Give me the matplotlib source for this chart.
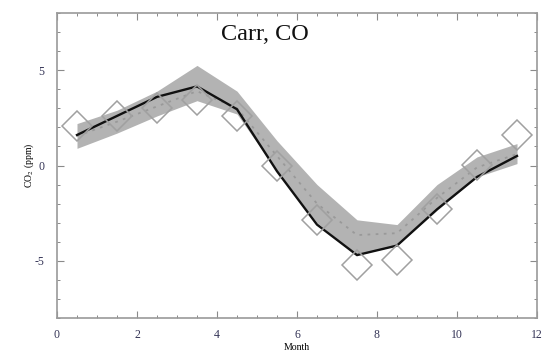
import matplotlib
matplotlib.use("Agg")
import matplotlib.pyplot as plt
from matplotlib.ticker import MultipleLocator

# Monthly CO2 seasonal cycle at Carr, CO
months = [0.5, 1.5, 2.5, 3.5, 4.5, 5.5, 6.5, 7.5, 8.5, 9.5, 10.5, 11.5]
observed = [2.05, 2.6, 3.0, 3.45, 2.6, 0.0, -2.85, -5.2, -4.95, -2.3, 0.05, 1.6]
model = [1.6, 2.6, 3.6, 4.15, 2.95, -0.3, -3.1, -4.7, -4.2, -2.3, -0.6, 0.5]
ens_mean = [1.55, 2.3, 3.1, 3.9, 3.0, 0.5, -2.0, -3.65, -3.55, -1.7, -0.1, 0.6]
ens_low = [0.9, 1.7, 2.6, 3.4, 2.7, -0.3, -3.0, -4.7, -4.2, -2.35, -0.6, 0.1]
ens_high = [2.2, 2.9, 3.9, 5.25, 3.9, 1.3, -1.0, -2.85, -3.1, -1.0, 0.45, 1.15]

title_text = "Carr, CO"
x_label = "Month"
y_label = "CO$_2$ (ppm)"

plt.rcParams["font.family"] = ["Liberation Serif", "DejaVu Serif"]
plt.rcParams["mathtext.fontset"] = "stix"
plt.rcParams["axes.unicode_minus"] = False

fig = plt.figure(figsize=(5.45, 3.53), dpi=100)
ax = fig.add_axes([57 / 545, 1 - 318 / 353, 480 / 545, 305 / 353])

ax.fill_between(months, ens_low, ens_high, color="#b3b3b3", lw=0, zorder=1)
ax.plot(months, ens_mean, color="#999999", ls=(0, (1.5, 3)), lw=1.3, zorder=2)
ax.plot(months, model, color="#111111", lw=1.7, zorder=3)
ax.plot(months, observed, ls="none", marker="D", ms=15, mfc="none",
        mec="#a0a0a0", mew=1.1, zorder=4)

ax.set_xlim(0, 12)
ax.set_ylim(-8, 8)
ax.xaxis.set_major_locator(MultipleLocator(2))
ax.xaxis.set_minor_locator(MultipleLocator(0.5))
ax.yaxis.set_major_locator(MultipleLocator(5))
ax.yaxis.set_minor_locator(MultipleLocator(1))
ax.tick_params(which="both", direction="in", top=True, right=True,
               color="#8a8a8a", labelsize=8.5, labelcolor="#333355")
ax.tick_params(axis="x", pad=8)
ax.tick_params(axis="y", pad=9)
ax.tick_params(which="major", length=5, width=0.8)
ax.tick_params(which="minor", length=2.5, width=0.7)
for s in ax.spines.values():
    s.set_color("#9a9a9a")
    s.set_linewidth(1.2)

ax.set_xlabel(x_label, fontsize=7, labelpad=1)
ax.set_ylabel(y_label, fontsize=7, labelpad=-1)

ax.text(5.2, 6.85, title_text, fontsize=17.5, ha="center", va="center",
        color="#111111")

fig.savefig("out.png", dpi=100)
